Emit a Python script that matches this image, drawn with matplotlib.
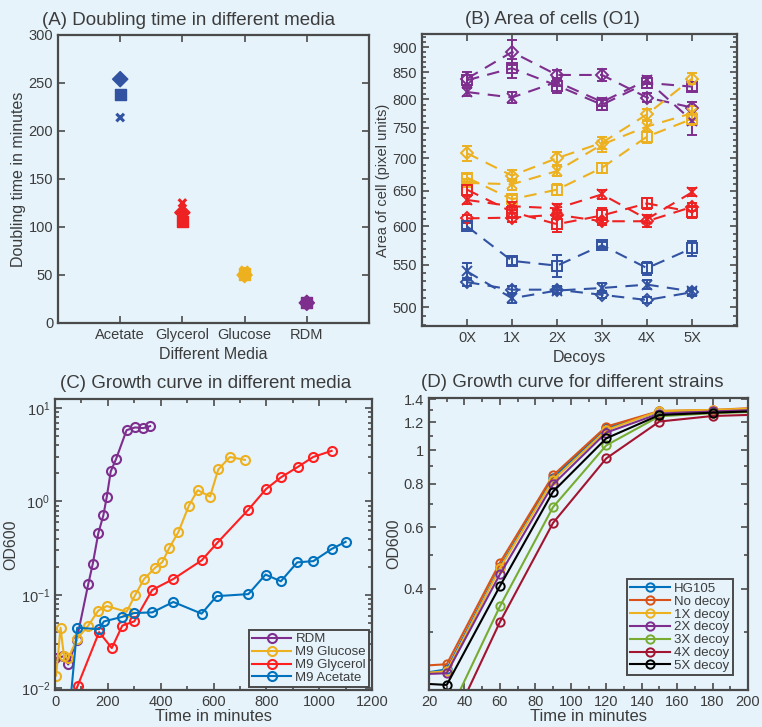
import numpy as np
import matplotlib.pyplot as plt
from matplotlib.ticker import FixedLocator, MultipleLocator, NullFormatter

# ---------------- data ----------------
# (A) doubling time in minutes, three replicates per medium
media = ['Acetate', 'Glycerol', 'Glucose', 'RDM']
dbl_square = [238, 106, 51, 21]
dbl_diamond = [254, 115, 50, 21]
dbl_cross = [214, 125, 55, 21]

# (B) area of cells vs decoys
decoys = ['0X', '1X', '2X', '3X', '4X', '5X']
purple_diamond = [838, 890, 845, 845, 803, 785]
purple_square = [835, 858, 825, 790, 830, 823]
purple_cross = [813, 803, 832, 795, 835, 762]
yellow_diamond = [708, 673, 700, 725, 773, 838]
yellow_square = [670, 638, 652, 685, 735, 765]
yellow_cross = [662, 660, 680, 722, 752, 775]
red_square = [652, 620, 603, 615, 632, 620]
red_diamond = [611, 612, 616, 607, 607, 627]
red_cross = [637, 628, 625, 645, 610, 648]
blue_square = [600, 555, 549, 575, 546, 571]
blue_diamond = [529, 520, 520, 514, 508, 517]
blue_cross = [542, 510, 519, 522, 526, 518]
purple_diamond_err = [12, 25, 10, 12, 8, 10]
purple_square_err = [10, 18, 14, 10, 10, 8]
purple_cross_err = [8, 10, 8, 8, 8, 25]
yellow_diamond_err = [12, 8, 10, 10, 10, 10]
yellow_square_err = [6, 6, 8, 8, 10, 10]
yellow_cross_err = [6, 8, 8, 12, 10, 12]
red_square_err = [8, 8, 10, 10, 8, 8]
red_diamond_err = [5, 6, 6, 5, 8, 6]
red_cross_err = [6, 6, 6, 6, 6, 6]
blue_square_err = [4, 5, 14, 4, 8, 10]
blue_diamond_err = [5, 4, 4, 4, 4, 4]
blue_cross_err = [10, 6, 4, 6, 5, 4]

# (C) growth curves in different media
rdm_t = [0, 32, 50, 82, 126, 143, 164, 183, 196, 211, 231, 271, 303, 334, 360]
rdm_od = [0.021, 0.022, 0.018, 0.033, 0.131, 0.215, 0.457, 0.71, 1.12, 2.1, 2.84, 5.8, 6.2, 6.1, 6.4]
glu_t = [4, 21, 34, 50, 84, 126, 164, 196, 271, 303, 337, 379, 406, 433, 467, 507, 540, 587, 618, 662, 719]
glu_od = [0.0137, 0.0445, 0.022, 0.021, 0.034, 0.047, 0.068, 0.076, 0.066, 0.099, 0.148, 0.195,
          0.224, 0.32, 0.47, 0.905, 1.32, 1.13, 2.2, 2.99, 2.79]
gly_t = [40, 86, 167, 215, 255, 300, 368, 448, 555, 614, 732, 799, 855, 919, 978, 1047]
gly_od = [0.005, 0.0107, 0.040, 0.027, 0.047, 0.052, 0.113, 0.148, 0.234, 0.36, 0.817, 1.36,
          1.81, 2.34, 3.0, 3.48]
ace_t = [40, 84, 167, 185, 252, 300, 368, 448, 555, 612, 732, 797, 855, 917, 978, 1047, 1100]
ace_od = [0.002, 0.0445, 0.043, 0.052, 0.058, 0.064, 0.065, 0.084, 0.063, 0.097, 0.102, 0.165,
          0.14, 0.223, 0.23, 0.31, 0.37]

# (D) growth curves for different strains
strain_t = [0, 30, 60, 90, 120, 150, 180, 210]
strains = ['HG105', 'No decoy', '1X decoy', '2X decoy', '3X decoy', '4X decoy', '5X decoy']
hg105 = [0.222, 0.235, 0.462, 0.833, 1.154, 1.290, 1.295, 1.31]
no_decoy = [0.238, 0.243, 0.475, 0.846, 1.167, 1.294, 1.303, 1.325]
decoy_1x = [0.226, 0.232, 0.458, 0.820, 1.140, 1.294, 1.303, 1.32]
decoy_2x = [0.226, 0.229, 0.440, 0.797, 1.122, 1.272, 1.290, 1.305]
decoy_3x = [0.165, 0.170, 0.356, 0.686, 1.031, 1.250, 1.275, 1.29]
decoy_4x = [0.150, 0.152, 0.321, 0.618, 0.946, 1.207, 1.252, 1.265]
decoy_5x = [0.216, 0.212, 0.407, 0.760, 1.080, 1.260, 1.280, 1.295]

# ---------------- style ----------------
BG = '#E6F3FB'
AX = '#4A4A4A'
TXT = '#3C3C3C'
BLUE = '#3252A2'
RED = '#EE2222'
YEL = '#EDB120'
PUR = '#7E2F8E'

plt.rcParams['font.family'] = ['Liberation Sans', 'DejaVu Sans']
plt.rcParams['text.color'] = TXT
plt.rcParams['axes.labelcolor'] = TXT
plt.rcParams['xtick.color'] = AX
plt.rcParams['ytick.color'] = AX
plt.rcParams['xtick.labelcolor'] = TXT
plt.rcParams['ytick.labelcolor'] = TXT
plt.rcParams['xtick.labelsize'] = 10.5
plt.rcParams['ytick.labelsize'] = 10.5

W, H = 762, 727
fig = plt.figure(figsize=(W / 100, H / 100), dpi=100, facecolor=BG)


def box(l, r, t, b):
    return [l / W, (H - b) / H, (r - l) / W, (b - t) / H]


def matlab_axes(ax):
    ax.set_facecolor(BG)
    for s in ax.spines.values():
        s.set_color(AX)
        s.set_linewidth(1.6)
    ax.tick_params(which='both', direction='in', top=True, right=True, width=1.2)
    ax.tick_params(which='major', length=5)
    ax.tick_params(which='minor', length=3)


def style_legend(leg):
    fr = leg.get_frame()
    fr.set_edgecolor(AX)
    fr.set_linewidth(1.4)
    fr.set_facecolor(BG)
    fr.set_alpha(1)


axA = fig.add_axes(box(58, 369, 35, 323))
axB = fig.add_axes(box(422, 737, 34, 326))
axC = fig.add_axes(box(55, 372, 399, 690))
axD = fig.add_axes(box(429, 748, 398, 690))

# ---------------- (A) ----------------
xa = np.arange(1, len(media) + 1)
cols = [BLUE, RED, YEL, PUR]
axA.scatter(xa, dbl_diamond, marker='D', s=60, c=cols, zorder=3)
axA.scatter(xa, dbl_square, marker='s', s=65, c=cols, zorder=3)
axA.scatter(xa, dbl_cross, marker='x', s=30, c=cols, linewidths=2.2, zorder=3)
axA.set_xlim(0, 5)
axA.set_ylim(0, 300)
axA.set_xticks(xa)
axA.set_xticklabels(media)
axA.set_yticks(np.arange(0, 301, 50))
axA.set_xlabel('Different Media', fontsize=11.5)
axA.set_ylabel('Doubling time in minutes', fontsize=11.5, labelpad=2)
axA.set_title('(A) Doubling time in different media', fontsize=13.5, x=0.42, pad=7)
matlab_axes(axA)

# ---------------- (B) ----------------
xb = np.arange(1, len(decoys) + 1)
series_b = [
    (purple_diamond, purple_diamond_err, PUR, 'D'),
    (purple_square, purple_square_err, PUR, 's'),
    (purple_cross, purple_cross_err, PUR, 'x'),
    (yellow_diamond, yellow_diamond_err, YEL, 'D'),
    (yellow_square, yellow_square_err, YEL, 's'),
    (yellow_cross, yellow_cross_err, YEL, 'x'),
    (red_square, red_square_err, RED, 's'),
    (red_diamond, red_diamond_err, RED, 'D'),
    (red_cross, red_cross_err, RED, 'x'),
    (blue_square, blue_square_err, BLUE, 's'),
    (blue_diamond, blue_diamond_err, BLUE, 'D'),
    (blue_cross, blue_cross_err, BLUE, 'x'),
]
for vals, err, c, m in series_b:
    ms = 6 if m == 'D' else 6.5
    axB.errorbar(xb, vals, yerr=err, color=c, marker=m, ms=ms, mfc='none', mew=1.4,
                 lw=1.5, ls=(0, (6, 4)), capsize=3.5, elinewidth=1.4, capthick=1.4)
axB.set_yscale('log')
axB.set_ylim(479, 927)
axB.set_xlim(0, 7)
axB.set_xticks(xb)
axB.set_xticklabels(decoys)
axB.yaxis.set_major_locator(FixedLocator(np.arange(500, 901, 50)))
axB.yaxis.set_minor_locator(FixedLocator([v for v in range(480, 930, 10) if v % 50]))
axB.yaxis.set_major_formatter(plt.FixedFormatter([str(v) for v in range(500, 901, 50)]))
axB.yaxis.set_minor_formatter(NullFormatter())
axB.set_xlabel('Decoys', fontsize=11.5)
axB.set_ylabel('Area of cell (pixel units)', fontsize=10.5, labelpad=2)
axB.set_title('(B) Area of cells (O1)', fontsize=13.5, x=0.415, pad=7)
matlab_axes(axB)

# ---------------- (C) ----------------
kw = dict(marker='o', mfc='none', ms=6.5, mew=1.5, lw=1.5)
axC.plot(rdm_t, rdm_od, color='#7E2F8E', label='RDM', **kw)
axC.plot(glu_t, glu_od, color='#EDB120', label='M9 Glucose', **kw)
axC.plot(gly_t, gly_od, color='#FF1F1F', label='M9 Glycerol', **kw)
axC.plot(ace_t, ace_od, color='#0072BD', label='M9 Acetate', **kw)
axC.set_yscale('log')
axC.set_ylim(0.0096, 12.5)
axC.set_xlim(0, 1200)
axC.set_xticks(np.arange(0, 1201, 200))
axC.xaxis.set_minor_locator(MultipleLocator(100))
axC.set_xlabel('Time in minutes', fontsize=12, labelpad=0)
axC.set_ylabel('OD600', fontsize=11.5, labelpad=2)
axC.set_title('(C) Growth curve in different media', fontsize=13.5, x=0.475, pad=8)
legC = axC.legend(loc='lower right', fontsize=9.5, frameon=True, fancybox=False,
                  borderaxespad=0.2, handlelength=3, handletextpad=0.3,
                  labelspacing=0.05, borderpad=0.25)
style_legend(legC)
matlab_axes(axC)

# ---------------- (D) ----------------
colsD = ['#0072BD', '#D95319', '#EDB120', '#7E2F8E', '#77AC30', '#A2142F', '#000000']
valsD = [hg105, no_decoy, decoy_1x, decoy_2x, decoy_3x, decoy_4x, decoy_5x]
for name, v, c in zip(strains, valsD, colsD):
    axD.plot(strain_t, v, color=c, label=name, marker='o', mfc='none', ms=6, mew=1.4, lw=1.5)
axD.set_yscale('log')
axD.set_ylim(0.205, 1.41)
axD.set_xlim(20, 200)
axD.set_xticks(np.arange(20, 201, 20))
axD.xaxis.set_minor_locator(MultipleLocator(10))
axD.yaxis.set_major_locator(FixedLocator([0.4, 0.6, 0.8, 1, 1.2, 1.4]))
axD.yaxis.set_major_formatter(plt.FixedFormatter(['0.4', '0.6', '0.8', '1', '1.2', '1.4']))
axD.yaxis.set_minor_locator(FixedLocator([0.3, 0.5, 0.7, 0.9, 1.1, 1.3]))
axD.yaxis.set_minor_formatter(NullFormatter())
axD.set_xlabel('Time in minutes', fontsize=12, labelpad=0)
axD.set_ylabel('OD600', fontsize=11.5, labelpad=2)
axD.set_title('(D) Growth curve for different strains', fontsize=13.5, x=0.45, pad=8)
legD = axD.legend(loc='lower right', fontsize=9.5, frameon=True, fancybox=False,
                  bbox_to_anchor=(0.953, 0.05), borderaxespad=0, handlelength=3,
                  handletextpad=0.3, labelspacing=0.05, borderpad=0.25)
style_legend(legD)
matlab_axes(axD)

fig.savefig('out.png', dpi=100, facecolor=BG)
